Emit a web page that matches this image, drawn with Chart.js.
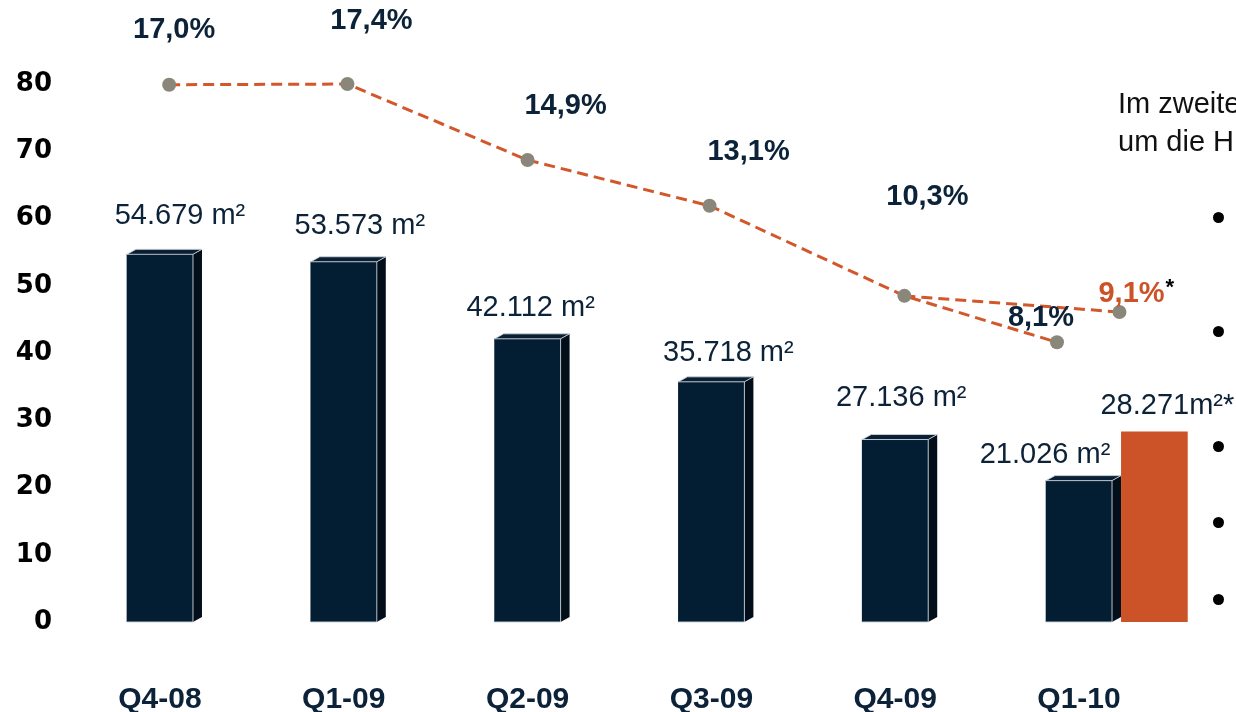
<!DOCTYPE html>
<html>
<head>
<meta charset="utf-8">
<script src="https://cdn.jsdelivr.net/npm/chart.js@4/dist/chart.umd.min.js"></script>
<style>
  html, body { margin: 0; padding: 0; background: #fff; overflow: hidden; }
  #wrap { position: relative; width: 1236px; height: 712px; overflow: hidden; }
  #flaeche { position: absolute; left: 0; top: 0; }
  .note { position: absolute; left: 1118px; top: 84px; font: 29px "Liberation Sans", Arial, sans-serif; line-height: 38px; color: #111; white-space: nowrap; }
  .dot { position: absolute; left: 1213px; width: 11px; height: 11px; border-radius: 50%; background: #000; }
</style>
</head>
<body>
<div id="wrap">
  <canvas id="flaeche" width="1236" height="712"></canvas>
  <div class="note">Im zweite<br>um die H</div>
  <div class="dot" style="top:212px"></div>
  <div class="dot" style="top:326px"></div>
  <div class="dot" style="top:441px"></div>
  <div class="dot" style="top:517px"></div>
  <div class="dot" style="top:594px"></div>
</div>
<script>
// Flächenumsatz (Tsd. m²) und Leerstandsquote je Quartal
const quarters = ["Q4-08", "Q1-09", "Q2-09", "Q3-09", "Q4-09", "Q1-10"];
const areaK = [54.679, 53.573, 42.112, 35.718, 27.136, 21.026];
const forecastArea = 28.271;
const vacancy = [17.0, 17.4, 14.9, 13.1, 10.3, 8.1];
const forecastVacancy = 9.1;
// where the grey markers sit (quarter position, height on the left axis)
const markerAt = [0.05, 1.02, 2, 2.99, 4.05, 4.88];
const markerHeight = [79.9, 80.0, 68.7, 61.9, 48.5, 41.6];
const forecastMarkerAt = 5.22;
const forecastMarkerHeight = 46.1;
const yTicks = [0, 10, 20, 30, 40, 50, 60, 70, 80];

const navy = "#031d33";
const navyText = "#0c2238";
const orange = "#cc5228";
const lineOrange = "#d2582b";
const grey = "#8a877a";
const forecastShift = 0.41;

// label nudges in px, as laid out on the slide
const barLabelShift = [[20, -38], [16, -36], [3, -31], [17, -29], [6, -42], [-34, -26]];
const pctShift = [[5, -55], [24, -63], [38, -54], [39, -54], [23, -99], [-16, -24]];

const areaText = v => v.toFixed(3) + " m²";
const pctText = v => v.toFixed(1).replace(".", ",") + "%";

const bar3d = {
  id: "bar3d",
  afterDatasetDraw(chart, args) {
    if (args.index !== 0) return;
    const ctx = chart.ctx;
    chart.getDatasetMeta(0).data.forEach(bar => {
      const l = bar.x - bar.width / 2, r = bar.x + bar.width / 2;
      const t = bar.y, b = bar.base;
      const dx = 9, dy = 5;
      ctx.save();
      ctx.fillStyle = "#020e19";
      ctx.beginPath();
      ctx.moveTo(r, t); ctx.lineTo(r + dx, t - dy); ctx.lineTo(r + dx, b - dy); ctx.lineTo(r, b);
      ctx.closePath();
      ctx.fill();
      ctx.fillStyle = "#0a1f33";
      ctx.beginPath();
      ctx.moveTo(l, t); ctx.lineTo(l + dx, t - dy); ctx.lineTo(r + dx, t - dy); ctx.lineTo(r, t);
      ctx.closePath();
      ctx.fill();
      ctx.strokeStyle = "rgba(205,212,220,0.9)";
      ctx.lineWidth = 1;
      ctx.stroke();
      ctx.beginPath();
      ctx.moveTo(r, t); ctx.lineTo(r, b); ctx.lineTo(l, b);
      ctx.stroke();
      ctx.restore();
    });
  }
};

const labels = {
  id: "labels",
  afterDatasetsDraw(chart) {
    const ctx = chart.ctx;
    ctx.save();
    ctx.textAlign = "center";
    ctx.textBaseline = "middle";
    ctx.fillStyle = navyText;
    ctx.font = '29px "Liberation Sans"';
    chart.getDatasetMeta(0).data.forEach((b, i) => {
      ctx.fillText(areaText(areaK[i]), b.x + barLabelShift[i][0], b.y + barLabelShift[i][1]);
    });
    const fb = chart.getDatasetMeta(1).data[0];
    ctx.fillText(forecastArea.toFixed(3) + "m²*", fb.x + 13, fb.y - 26);

    ctx.font = 'bold 29px "Liberation Sans"';
    chart.getDatasetMeta(2).data.forEach((p, i) => {
      ctx.fillText(pctText(vacancy[i]), p.x + pctShift[i][0], p.y + pctShift[i][1]);
    });
    const fp = chart.getDatasetMeta(3).data[1];
    const txt = pctText(forecastVacancy);
    ctx.textAlign = "left";
    ctx.fillStyle = orange;
    ctx.fillText(txt, fp.x - 21, fp.y - 18);
    const w = ctx.measureText(txt).width;
    ctx.fillStyle = "#000";
    ctx.font = 'bold 22px "Liberation Sans"';
    ctx.fillText("*", fp.x - 20 + w, fp.y - 24);
    ctx.restore();
  }
};

new Chart("flaeche", {
  type: "bar",
  data: {
    datasets: [
      {
        type: "bar",
        data: areaK.map((v, i) => ({ x: i, y: v })),
        backgroundColor: navy,
        barThickness: 66,
        grouped: false,
        order: 3
      },
      {
        type: "bar",
        data: [{ x: quarters.length - 1 + forecastShift, y: forecastArea }],
        backgroundColor: orange,
        barThickness: 66,
        grouped: false,
        order: 3
      },
      {
        type: "line",
        data: markerAt.map((x, i) => ({ x: x, y: markerHeight[i] })),
        borderColor: lineOrange,
        borderWidth: 3,
        borderDash: [11, 6],
        tension: 0,
        pointRadius: 7,
        pointBackgroundColor: grey,
        pointBorderWidth: 0,
        order: 1
      },
      {
        type: "line",
        data: [
          { x: markerAt[4], y: markerHeight[4] },
          { x: forecastMarkerAt, y: forecastMarkerHeight }
        ],
        borderColor: lineOrange,
        borderWidth: 3,
        borderDash: [11, 6],
        tension: 0,
        pointRadius: [0, 7],
        pointBackgroundColor: grey,
        pointBorderWidth: 0,
        order: 1
      }
    ]
  },
  options: {
    responsive: false,
    animation: false,
    devicePixelRatio: 1,
    layout: { padding: 0, autoPadding: false },
    plugins: { legend: { display: false }, tooltip: { enabled: false } },
    scales: {
      x: {
        type: "linear",
        min: -0.533,
        max: 5.854,
        offset: false,
        grid: { display: false, drawTicks: false },
        border: { display: false },
        afterBuildTicks: s => { s.ticks = quarters.map((q, i) => ({ value: i })); },
        afterFit: s => { s.height = 90; s.paddingLeft = 0; s.paddingRight = 0; },
        ticks: {
          autoSkip: false,
          maxRotation: 0,
          padding: 60,
          color: navyText,
          font: { family: "Liberation Sans", size: 30, weight: "bold" },
          callback: v => quarters[v]
        }
      },
      y: {
        min: 0,
        max: 92.5,
        grid: { display: false, drawTicks: false },
        border: { display: false },
        afterBuildTicks: s => { s.ticks = yTicks.map(v => ({ value: v })); },
        afterFit: s => { s.width = 62; s.paddingTop = 0; s.paddingBottom = 0; },
        ticks: {
          padding: 10,
          color: "#000",
          font: { family: "DejaVu Sans", size: 26, weight: "bold" }
        }
      }
    }
  },
  plugins: [bar3d, labels]
});
</script>
</body>
</html>
